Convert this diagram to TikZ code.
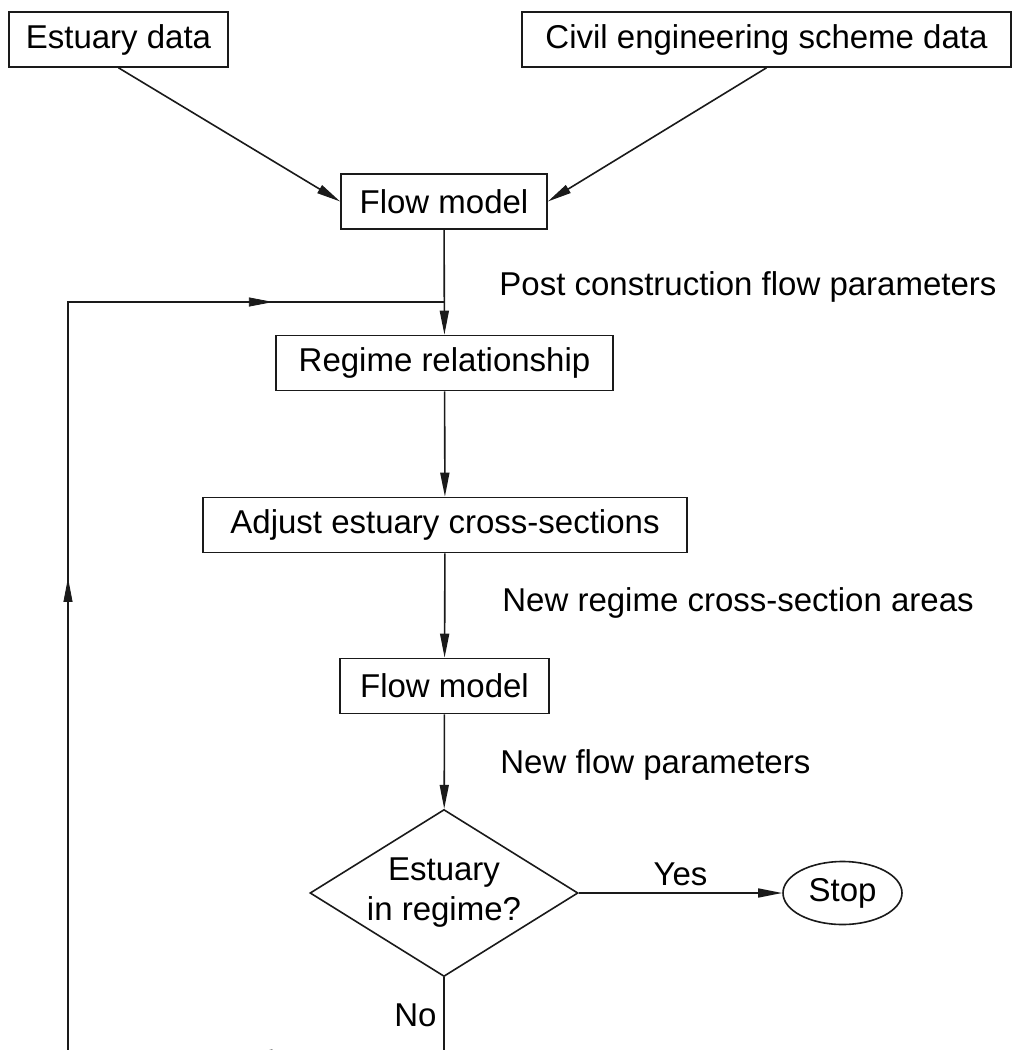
\documentclass[tikz,border=0pt]{standalone}
\usepackage{fontspec}
\setmainfont{Liberation Sans}
\usetikzlibrary{shapes.geometric,arrows.meta,decorations.markings}
\definecolor{ink}{HTML}{1A1A1A}
\tikzset{
  wire/.style={draw=ink, line width=0.8pt, line join=miter},
  arr/.style={wire, -{Triangle[length=12pt,width=4.5pt]}},
  midarr/.style={postaction={decorate}, decoration={markings,
      mark=at position #1 with {\arrow[ink]{Triangle[length=12pt,width=4.5pt]}}}},
  box/.style={draw=ink, line width=0.8pt, minimum height=27.5pt, inner xsep=8pt},
  choice/.style={draw=ink, line width=0.8pt, diamond, aspect=1.6, inner sep=0pt,
      minimum width=134pt, minimum height=83.5pt, align=center},
  term/.style={draw=ink, line width=0.8pt, ellipse, inner sep=0pt,
      minimum width=59.5pt, minimum height=31.5pt},
  lab/.style={anchor=west, inner sep=0pt},
}

\begin{document}
\begin{tikzpicture}[x=0.5pt, y=-0.5pt, font=\fontsize{16.5}{20}\selectfont]
  \fill[white] (0,0) rectangle (1032,1050);
  \useasboundingbox (0,0) rectangle (1032,1050);
  \clip (0,0) rectangle (1032,1050);

  % inputs
  \node[box, minimum width=109.5pt] (est) at (118.5,39.5) {Estuary data};
  \node[box, minimum width=244.5pt] (civil) at (766.5,39.5) {Civil engineering scheme data};

  % main chain
  \node[box, minimum width=103pt] (flowA) at (444,201.5) {Flow model};
  \node[box, minimum width=168.5pt] (regime) at (444.5,363) {Regime relationship};
  \node[box, minimum width=242pt] (adjust) at (445,525) {Adjust estuary cross-sections};
  \node[box, minimum width=104.5pt] (flowB) at (444.5,686) {Flow model};
  \node[choice] (check) at (444,893) {Estuary\\in regime?};
  \node[term] (stop) at (842.5,893) {Stop};

  % side labels
  \node[lab] (postlab) at (499,287) {Post construction flow parameters};
  \node[lab] (arealab) at (502,603) {New regime cross-section areas};
  \node[lab] (flowlab) at (500,765) {New flow parameters};

  % loop back corners
  \coordinate (botR) at (444,1054);
  \coordinate (botL) at (68,1054);
  \coordinate (topL) at (68,302);
  \coordinate (join) at (444,302);

  \draw[arr] (est.south) -- (flowA.west);
  \draw[arr] (civil.south) -- (flowA.east);
  \draw[arr] (flowA) -- (regime);
  \draw[arr] (regime) -- (adjust);
  \draw[arr] (adjust) -- (flowB);
  \draw[arr] (flowB) -- (check);
  \draw[arr] (check) -- node[above] {Yes} (stop);

  % No branch runs back to the regime step
  \draw[wire] (check.south) -- node[left] {No} (botR) -- (botL) -- (topL) -- (join);
  \path[midarr=0.52] (botR) -- (botL);
  \path[midarr=0.633] (botL) -- (topL);
  \path[midarr=0.545] (topL) -- (join);
\end{tikzpicture}
\end{document}
